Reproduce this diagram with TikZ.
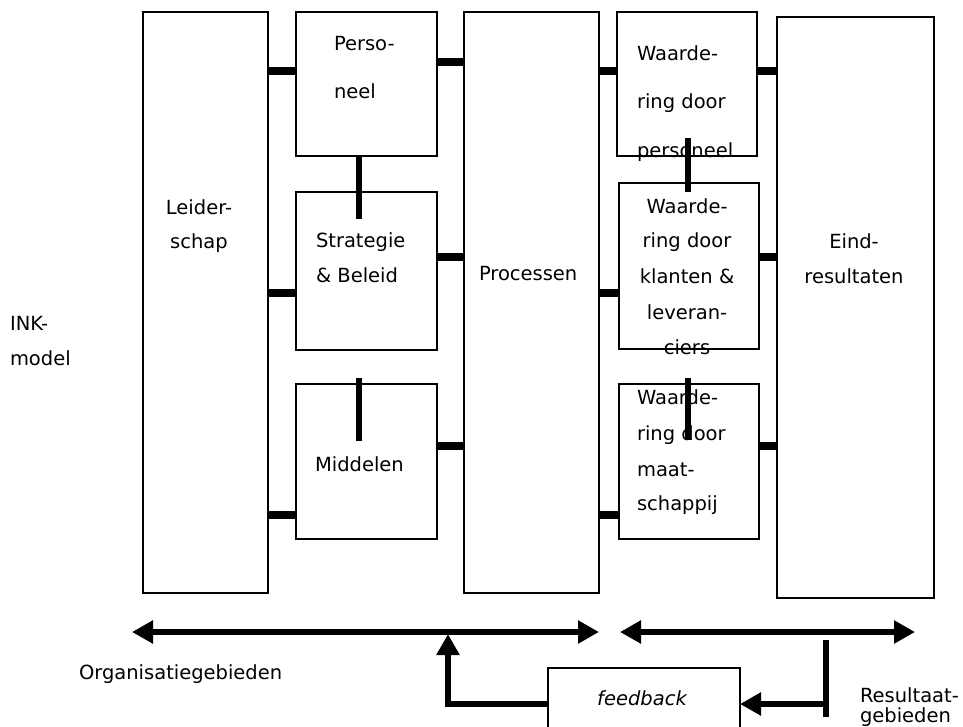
\documentclass[tikz,border=0pt]{standalone}
\usepackage{fontspec}
\setmainfont{DejaVu Sans}
\usetikzlibrary{arrows.meta}
\begin{document}
\begin{tikzpicture}[x=1pt,y=-1pt,
  box/.style={draw=black, line width=1.6pt, inner sep=0pt, outer sep=0pt, anchor=north west},
  conn/.style={line width=7.5pt},
  vconn/.style={line width=6.5pt},
  txt/.style={anchor=base west, inner sep=0pt, outer sep=0pt, font=\fontsize{19.5pt}{24pt}\selectfont},
  txtc/.style={anchor=base, inner sep=0pt, outer sep=0pt, font=\fontsize{19.5pt}{24pt}\selectfont},
  bigline/.style={line width=6pt},
  tip/.tip={Triangle[length=21pt,width=22pt]},
]
\useasboundingbox (0,0) rectangle (963,726);

% boxes
\node[box, minimum width=125pt, minimum height=581pt] (L)  at (143,12) {};
\node[box, minimum width=141pt, minimum height=144pt] (P)  at (296,12) {};
\node[box, minimum width=141pt, minimum height=158pt] (S)  at (296,192) {};
\node[box, minimum width=141pt, minimum height=155pt] (M)  at (296,384) {};
\node[box, minimum width=135pt, minimum height=581pt] (Pr) at (464,12) {};
\node[box, minimum width=140pt, minimum height=144pt] (W1) at (617,12) {};
\node[box, minimum width=140pt, minimum height=166pt] (W2) at (619,183) {};
\node[box, minimum width=140pt, minimum height=155pt] (W3) at (619,384) {};
\node[box, minimum width=157pt, minimum height=581pt] (E)  at (777,17) {};
\node[box, minimum width=192pt, minimum height=90pt]  (F)  at (548,668) {};

% texts
\node[txt]  (tP1) at (334,50) {Perso-};
\node[txt]  (tP2) at (334,98) {neel};
\node[txtc] (tL1) at (199,214) {Leider-};
\node[txtc] (tL2) at (199,248) {schap};
\node[txt]  (tS1) at (316,247) {Strategie};
\node[txt]  (tS2) at (316,282) {\& Beleid};
\node[txt]  (tM1) at (315,471) {Middelen};
\node[txt]  (tPr) at (479,280) {Processen};
\node[txt]  (tW1a) at (637,60)  {Waarde-};
\node[txt]  (tW1b) at (637,108) {ring door};
\node[txt]  (tW1c) at (637,157) {personeel};
\node[txtc] (tW2a) at (687,213) {Waarde-};
\node[txtc] (tW2b) at (687,247) {ring door};
\node[txtc] (tW2c) at (687,283) {klanten \&};
\node[txtc] (tW2d) at (687,319) {leveran-};
\node[txtc] (tW2e) at (687,354) {ciers};
\node[txt]  (tW3a) at (637,404) {Waarde-};
\node[txt]  (tW3b) at (637,440) {ring door};
\node[txt]  (tW3c) at (637,476) {maat-};
\node[txt]  (tW3d) at (637,510) {schappij};
\node[txtc] (tE1) at (854,248) {Eind-};
\node[txtc] (tE2) at (854,283) {resultaten};
\node[txt]  (tI1) at (10,330) {INK-};
\node[txt]  (tI2) at (10,365) {model};
\node[txt]  (tOrg) at (79,679) {Organisatiegebieden};
\node[txtc] (tF) at (642,705) {\itshape feedback};
\node[txt]  (tR1) at (860,702) {Resultaat-};
\node[txt]  (tR2) at (860,722) {gebieden};

% horizontal connectors
\draw[conn] ([yshift=-59pt]L.north east)  -- ([yshift=-59pt]P.north west);
\draw[conn] ([yshift=-281pt]L.north east) -- ([yshift=-101pt]S.north west);
\draw[conn] ([yshift=-503pt]L.north east) -- ([yshift=-131pt]M.north west);
\draw[conn] ([yshift=-50pt]P.north east)  -- ([yshift=-50pt]Pr.north west);
\draw[conn] ([yshift=-65pt]S.north east)  -- ([yshift=-245pt]Pr.north west);
\draw[conn] ([yshift=-62pt]M.north east)  -- ([yshift=-434pt]Pr.north west);
\draw[conn] ([yshift=-59pt]Pr.north east) -- ([yshift=-59pt]W1.north west);
\draw[conn] ([yshift=-281pt]Pr.north east) -- ([yshift=-110pt]W2.north west);
\draw[conn] ([yshift=-503pt]Pr.north east) -- ([yshift=-131pt]W3.north west);
\draw[conn] ([yshift=-59pt]W1.north east) -- ([yshift=-54pt]E.north west);
\draw[conn] ([yshift=-74pt]W2.north east) -- ([yshift=-240pt]E.north west);
\draw[conn] ([yshift=-62pt]W3.north east) -- ([yshift=-429pt]E.north west);

% vertical connectors
\draw[vconn] ([xshift=63pt]P.south west) -- ([xshift=63pt,yshift=-27pt]S.north west);
\draw[vconn] ([xshift=63pt,yshift=-28pt]S.south west) -- ([xshift=63pt,yshift=-57pt]M.north west);
\draw[vconn] ([xshift=71pt,yshift=18pt]W1.south west) -- ([xshift=69pt,yshift=-9pt]W2.north west);
\draw[vconn] ([xshift=69pt,yshift=-29pt]W2.south west) -- ([xshift=69pt,yshift=-56pt]W3.north west);

% bottom arrows
\coordinate (la) at (132,632);
\coordinate (ra) at (599,632);
\coordinate (lb) at (620,632);
\coordinate (rb) at (915,632);
\coordinate (up) at (448,634);
\coordinate (rt) at (826,640);
\coordinate (rbot) at (826,717);
\coordinate (rj) at (826,704);
\draw[bigline, {tip}-{tip}] (la) -- (ra);
\draw[bigline, {tip}-{tip}] (lb) -- (rb);
\draw[bigline, -{tip}] ([yshift=-36pt]F.north west) -| (up);
\draw[bigline] (rt) -- (rbot);
\draw[bigline, -{tip}] (rj) -- ([yshift=-36pt]F.north east);
\end{tikzpicture}
\end{document}
